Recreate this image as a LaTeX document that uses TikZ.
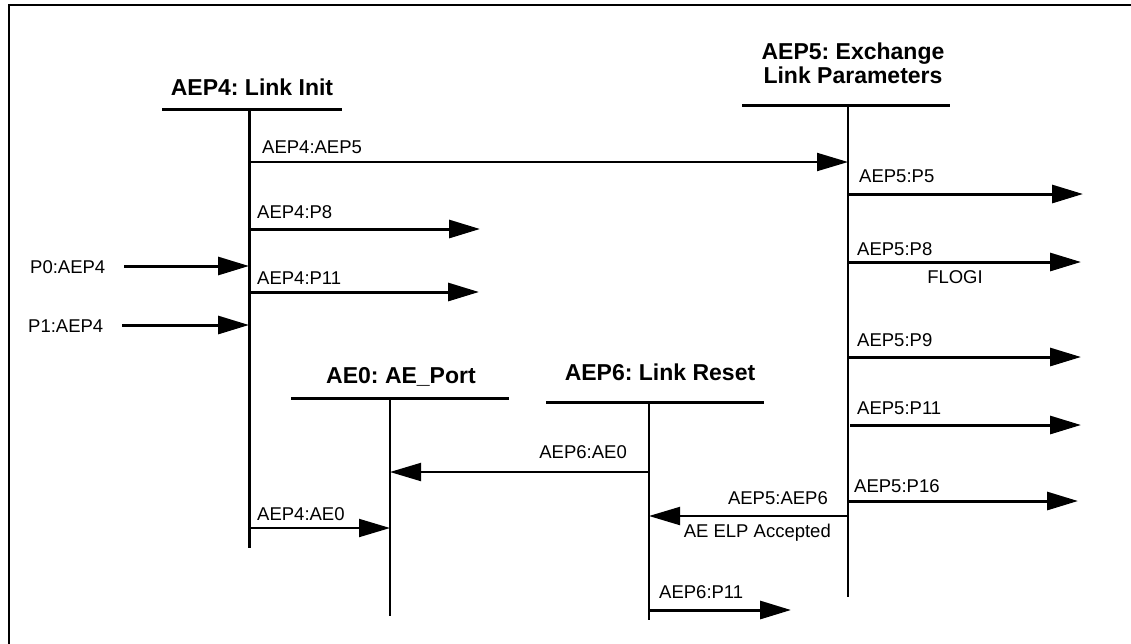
\documentclass[tikz,border=0pt]{standalone}
\usepackage{fontspec}
\setmainfont{Liberation Sans}
\frenchspacing
\usepackage{tikz}
\usetikzlibrary{arrows.meta}
\tikzstyle{title} = [font=\bfseries\fontsize{23}{24}\selectfont, inner sep=0pt, anchor=base, align=center]
\tikzstyle{lbl} = [font=\fontsize{18.5}{22}\selectfont, inner sep=0pt, anchor=base west]
\tikzstyle{bar} = [line width=3pt]
\tikzstyle{life} = [line width=2pt]
\tikzstyle{arrow} = [line width=3pt, -{Triangle[length=31pt, width=18pt]}]
\tikzstyle{thinarrow} = [line width=2pt, -{Triangle[length=31pt, width=18pt]}]

\begin{document}
\begin{tikzpicture}[x=1pt, y=-1pt]

\useasboundingbox (0,0) rectangle (1131,643);
\draw [line width=2.5pt] (9,660) -- (9,5) -- (1140,5);

% objects
\node (aep4) [title] at (252,95) {AEP4: Link Init};
\node (aep5) [title] at (853,83) {AEP5: Exchange\\Link Parameters};
\node (ae0) [title] at (401,383) {AE0: AE\_Port};
\node (aep6) [title] at (660,380) {AEP6: Link Reset};

\draw [bar] (162,109) -- (342,109);
\draw [bar] (742,105) -- (950,105);
\draw [bar] (291,398) -- (509,398);
\draw [bar] (546,402) -- (764,402);

\coordinate (aep4top) at (249,109);
\coordinate (aep4bot) at (249,548);
\coordinate (aep5top) at (848,105);
\coordinate (aep5bot) at (848,597);
\coordinate (ae0top) at (390,398);
\coordinate (ae0bot) at (390,616);
\coordinate (aep6top) at (649,402);
\coordinate (aep6bot) at (649,620);

\draw [bar] (aep4top) -- (aep4bot);
\draw [life] (aep5top) -- (aep5bot);
\draw [life] (ae0top) -- (ae0bot);
\draw [life] (aep6top) -- (aep6bot);

% message ends
\coordinate (m1a) at (249,162);  \coordinate (m1b) at (848,162);
\coordinate (m2a) at (249,229);  \coordinate (m2b) at (480,229);
\coordinate (m3a) at (124,266);  \coordinate (m3b) at (249,266);
\coordinate (m4a) at (249,292);  \coordinate (m4b) at (479,292);
\coordinate (m5a) at (122,325);  \coordinate (m5b) at (249,325);
\coordinate (m6a) at (848,194);  \coordinate (m6b) at (1083,194);
\coordinate (m7a) at (848,262);  \coordinate (m7b) at (1081,262);
\coordinate (m8a) at (848,357);  \coordinate (m8b) at (1081,357);
\coordinate (m9a) at (850,425);  \coordinate (m9b) at (1081,425);
\coordinate (m10a) at (848,501); \coordinate (m10b) at (1078,501);
\coordinate (m11a) at (649,472); \coordinate (m11b) at (390,472);
\coordinate (m12a) at (848,516); \coordinate (m12b) at (649,516);
\coordinate (m13a) at (249,528); \coordinate (m13b) at (390,528);
\coordinate (m14a) at (649,610); \coordinate (m14b) at (791,610);

\draw [thinarrow] (m1a) -- (m1b);
\draw [arrow] (m2a) -- (m2b);
\draw [arrow] (m3a) -- (m3b);
\draw [arrow] (m4a) -- (m4b);
\draw [arrow] (m5a) -- (m5b);
\draw [arrow] (m6a) -- (m6b);
\draw [arrow] (m7a) -- (m7b);
\draw [arrow] (m8a) -- (m8b);
\draw [arrow] (m9a) -- (m9b);
\draw [arrow] (m10a) -- (m10b);
\draw [thinarrow] (m11a) -- (m11b);
\draw [thinarrow] (m12a) -- (m12b);
\draw [thinarrow] (m13a) -- (m13b);
\draw [arrow] (m14a) -- (m14b);

% labels
\node (t1) [lbl] at (262,153) {AEP4:AEP5};
\node (t2) [lbl] at (257,218) {AEP4:P8};
\node (t3) [lbl] at (30,273) {P0:AEP4};
\node (t4) [lbl] at (257,284) {AEP4:P11};
\node (t5) [lbl] at (28,332) {P1:AEP4};
\node (t6) [lbl] at (859,182) {AEP5:P5};
\node (t7) [lbl] at (857,255) {AEP5:P8};
\node (t8) [lbl, anchor=base] at (955,283) {FLOGI};
\node (t9) [lbl] at (857,346) {AEP5:P9};
\node (t10) [lbl] at (857,414) {AEP5:P11};
\node (t11) [lbl] at (854,492) {AEP5:P16};
\node (t12) [lbl, anchor=base east] at (627,458) {AEP6:AE0};
\node (t13) [lbl, anchor=base east] at (828,504) {AEP5:AEP6};
\node (t14) [lbl, anchor=base east] at (831,537) {AE ELP Accepted};
\node (t15) [lbl] at (257,520) {AEP4:AE0};
\node (t16) [lbl] at (659,598) {AEP6:P11};

\end{tikzpicture}
\end{document}
